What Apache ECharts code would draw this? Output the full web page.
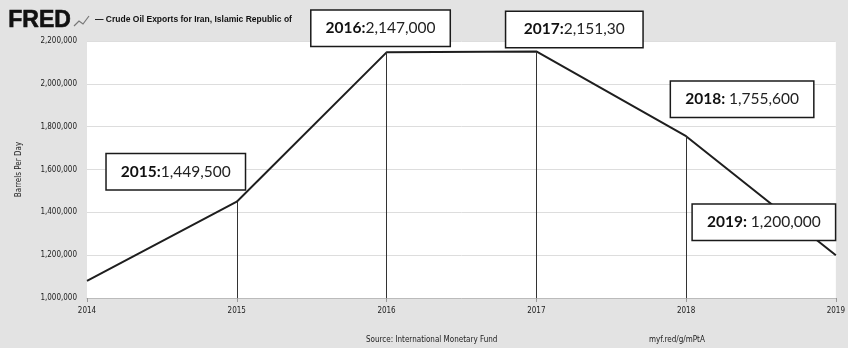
<!DOCTYPE html>
<html><head><meta charset="utf-8">
<script src="https://cdn.jsdelivr.net/npm/echarts@6/dist/echarts.min.js"></script>
<style>html,body{margin:0;padding:0;background:#fff}#c{width:848px;height:348px}</style>
</head><body><div id="c"></div>
<script>
const years = [2014, 2015, 2016, 2017, 2018, 2019];
const exportsBpd = [1080000, 1449500, 2147000, 2151300, 1755600, 1200000];
const yTicks = [1000000, 1200000, 1400000, 1600000, 1800000, 2000000, 2200000];
const dropYears = [2015, 2016, 2017, 2018];
const calloutYears = [2015, 2016, 2017, 2018, 2019];
const calloutYearText = ['2015:', '2016:', '2017:', '2018: ', '2019: '];
const calloutValueText = ['1,449,500', '2,147,000', '2,151,30', '1,755,600', '1,200,000'];
const titleText = '— Crude Oil Exports for Iran, Islamic Republic of';
const yAxisName = 'Barrels Per Day';
const sourceText = 'Source: International Monetary Fund';
const linkText = 'myf.red/g/mPtA';

const calloutOffsets = [[-61, -30], [-6, -24], [38, -22], [56, -37], [-72, -33]];
const calloutWidths = [138, 138, 136, 142, 142];
const valOf = y => exportsBpd[years.indexOf(y)];
const small = '"Liberation Sans Narrow","DejaVu Sans Condensed","Liberation Sans",sans-serif';
const boxFont = 'Lato,"Noto Sans",sans-serif';

const chart = echarts.init(document.getElementById('c'));
chart.setOption({
  animation: false,
  backgroundColor: '#e3e3e3',
  grid: {left: 87, right: 6, top: 41, bottom: 50, show: true, backgroundColor: '#fff', borderWidth: 0},
  xAxis: {
    type: 'value', min: years[0], max: years[years.length - 1], interval: 1,
    axisLine: {show: true, lineStyle: {color: '#bbb'}},
    axisTick: {show: true, length: 4, lineStyle: {color: '#999'}},
    splitLine: {show: false},
    axisLabel: {formatter: v => String(v), fontSize: 8, color: '#222', fontFamily: small, margin: 9}
  },
  yAxis: {
    type: 'value', min: yTicks[0], max: yTicks[yTicks.length - 1], interval: yTicks[1] - yTicks[0],
    name: yAxisName, nameLocation: 'middle', nameGap: 64, nameRotate: 90,
    nameTextStyle: {fontSize: 8, color: '#222', fontFamily: small},
    axisLine: {show: false}, axisTick: {show: false},
    splitLine: {lineStyle: {color: '#ddd', width: 1}},
    axisLabel: {fontSize: 8, color: '#222', fontFamily: small, margin: 10,
      formatter: v => v.toLocaleString('en-US')}
  },
  series: [{
    type: 'line',
    data: years.map((y, i) => [y, exportsBpd[i]]),
    showSymbol: false,
    lineStyle: {color: '#1e1e1e', width: 2},
    markLine: {
      silent: true, symbol: 'none', animation: false,
      label: {show: false},
      lineStyle: {color: '#333', width: 1, type: 'solid'},
      data: dropYears.map(y => [{coord: [y, valOf(y)]}, {coord: [y, yTicks[0]]}])
    },
    markPoint: {
      silent: true, symbol: 'rect', symbolSize: 1,
      itemStyle: {color: 'rgba(0,0,0,0)'},
      z: 10,
      data: calloutYears.map((y, i) => ({
        coord: [y, valOf(y)],
        label: {
          show: true, position: 'inside', offset: calloutOffsets[i],
          formatter: '{b|' + calloutYearText[i] + '}{n|' + calloutValueText[i] + '}',
          backgroundColor: '#fff', borderColor: '#1a1a1a', borderWidth: 1.5,
          width: calloutWidths[i], padding: 0, align: 'center',
          rich: {
            b: {fontFamily: boxFont, fontWeight: 'bold', fontSize: 15.5, color: '#111', lineHeight: 35},
            n: {fontFamily: boxFont, fontSize: 15.5, color: '#222', lineHeight: 35}
          }
        }
      }))
    }
  }],
  graphic: [
    {type: 'text', left: 8, top: 9, style: {text: 'FRED', font: 'bold 23px "Liberation Sans",sans-serif', fill: '#111', stroke: '#111', lineWidth: 0.6}},
    {type: 'polyline', shape: {points: [[74, 26], [79, 21], [83, 24], [89, 16]]}, style: {stroke: '#777', lineWidth: 1.2, fill: null}},
    {type: 'text', left: 95, top: 15, style: {text: titleText, font: 'bold 8.5px "Liberation Sans",sans-serif', fill: '#111'}},
    {type: 'text', left: 366, top: 336, style: {text: sourceText, font: '8px ' + small, fill: '#222'}},
    {type: 'text', left: 649, top: 336, style: {text: linkText, font: '8px ' + small, fill: '#222'}}
  ]
});
</script></body></html>
